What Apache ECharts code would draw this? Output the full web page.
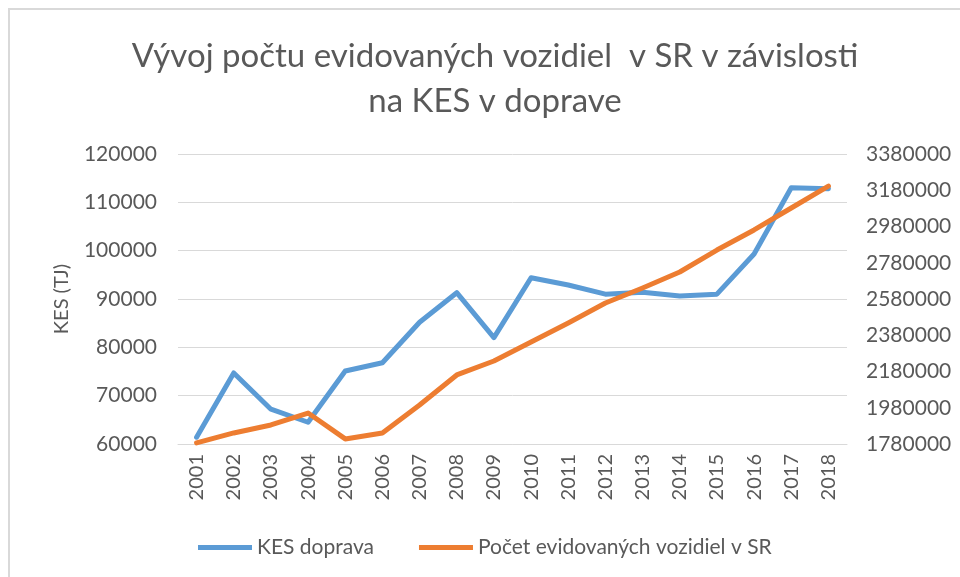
<!DOCTYPE html>
<html>
<head>
<meta charset="utf-8">
<title>Vývoj počtu evidovaných vozidiel</title>
<script src="https://cdn.jsdelivr.net/npm/echarts@6/dist/echarts.min.js"></script>
<style>
    html, body { margin: 0; padding: 0; background: #fff; }
    #frame {
        position: absolute; left: 8px; top: 8px; width: 960px; height: 577px;
        border-top: 2px solid #d9d9d9; border-left: 2px solid #d9d9d9;
    }
    #chart { position: absolute; left: 0; top: 0; width: 960px; height: 577px; }
</style>
</head>
<body>
<div id="frame"></div>
<div id="chart"></div>
<script>
// data
const years = ['2001', '2002', '2003', '2004', '2005', '2006', '2007', '2008', '2009',
    '2010', '2011', '2012', '2013', '2014', '2015', '2016', '2017', '2018'];
const kesDoprava = [61400, 74700, 67200, 64500, 75100, 76800, 85200, 91300, 82000,
    94400, 92900, 91000, 91400, 90600, 91000, 99300, 113000, 112800];
const pocetVozidiel = [1786000, 1841000, 1885000, 1951000, 1808000, 1841000, 1995000, 2161000, 2238000,
    2343000, 2448000, 2558000, 2641000, 2729000, 2850000, 2961000, 3082000, 3203000];
const rightTicks = [1780000, 1980000, 2180000, 2380000, 2580000, 2780000, 2980000, 3180000, 3380000];

const FONT = 'Lato';
const GREY = '#595959';

// cisla bez oddelovaca tisicov
const plain = v => String(v);

const option = {
    animation: false,
    textStyle: {fontFamily: FONT},
    title: {
        text: 'Vývoj počtu evidovaných vozidiel  v SR v závislosti\nna KES v doprave',
        left: 490,
        textAlign: 'center',
        top: 29,
        textStyle: {
            fontFamily: FONT,
            fontSize: 33,
            fontWeight: 'normal',
            color: GREY,
            lineHeight: 45
        }
    },
    legend: {
        left: 198,
        top: 537,
        padding: 0,
        itemWidth: 54,
        itemHeight: 5,
        itemGap: 45,
        icon: 'rect',
        textStyle: {fontFamily: FONT, fontSize: 21, color: GREY},
        data: ['KES doprava', 'Počet evidovaných vozidiel v SR']
    },
    grid: {
        left: 178,
        right: 113,
        top: 154,
        bottom: 133
    },
    xAxis: {
        type: 'category',
        data: years,
        axisLine: {lineStyle: {color: '#d9d9d9', width: 1}},
        axisTick: {show: false},
        axisLabel: {
            rotate: 90,
            margin: 10,
            fontFamily: FONT,
            fontSize: 20,
            color: GREY
        }
    },
    yAxis: [
        {
            type: 'value',
            min: 60000,
            max: 120000,
            interval: 10000,
            name: 'KES (TJ)',
            nameLocation: 'middle',
            nameGap: 106,
            nameTextStyle: {fontFamily: FONT, fontSize: 20, color: GREY},
            axisLine: {show: false},
            axisTick: {show: false},
            axisLabel: {margin: 21, fontFamily: FONT, fontSize: 21, color: GREY, formatter: plain},
            splitLine: {lineStyle: {color: '#d9d9d9', width: 1}}
        },
        {
            type: 'value',
            min: 1780000,
            max: 3380000,
            position: 'right',
            axisLine: {show: false},
            axisTick: {show: false},
            splitLine: {show: false},
            axisLabel: {
                customValues: rightTicks,
                margin: 19,
                fontFamily: FONT,
                fontSize: 21,
                color: GREY,
                formatter: plain
            }
        }
    ],
    series: [
        {
            name: 'KES doprava',
            type: 'line',
            yAxisIndex: 0,
            data: kesDoprava,
            showSymbol: false,
            symbol: 'none',
            itemStyle: {color: '#5B9BD5'},
            lineStyle: {color: '#5B9BD5', width: 5, cap: 'round', join: 'round'}
        },
        {
            name: 'Počet evidovaných vozidiel v SR',
            type: 'line',
            yAxisIndex: 1,
            data: pocetVozidiel,
            showSymbol: false,
            symbol: 'none',
            itemStyle: {color: '#ED7D31'},
            lineStyle: {color: '#ED7D31', width: 5, cap: 'round', join: 'round'}
        }
    ]
};

const myChart = echarts.init(document.querySelector('#chart'));
myChart.setOption(option);
</script>
</body>
</html>
